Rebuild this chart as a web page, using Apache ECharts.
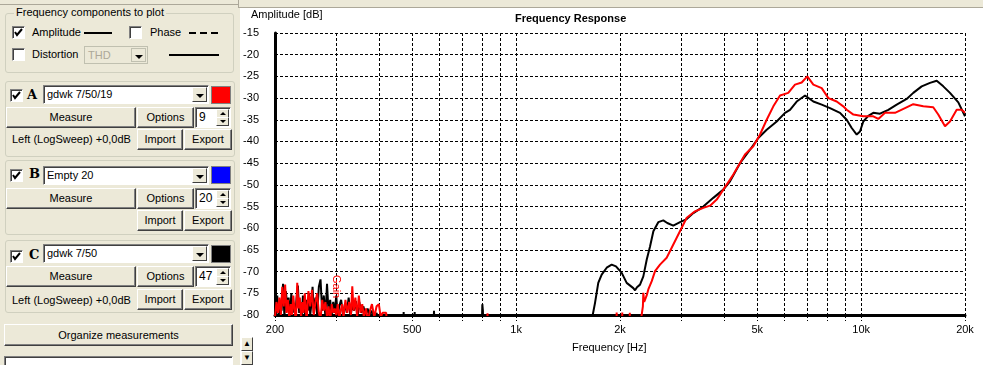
<!DOCTYPE html>
<html><head><meta charset="utf-8">
<script src="https://cdn.jsdelivr.net/npm/echarts@6/dist/echarts.min.js"></script>
<style>
html,body{margin:0;padding:0;}
body{width:983px;height:365px;overflow:hidden;background:#ECE9D8;position:relative;font-family:"Liberation Sans",Arial,sans-serif;font-size:11px;color:#000;}
.a{position:absolute;}
.grp{position:absolute;border:1px solid #D0D0BF;border-radius:3px;}
.btn{position:absolute;box-sizing:border-box;background:#ECE9D8;border:1px solid;border-color:#fff #404040 #404040 #fff;box-shadow:inset -1px -1px #808080;text-align:center;line-height:19px;}
.chk{position:absolute;box-sizing:border-box;width:13px;height:13px;background:#fff;border:1px solid;border-color:#808080 #fff #fff #808080;box-shadow:inset 1px 1px #404040;}
.chk svg{position:absolute;left:1px;top:1px;}
.combo{position:absolute;box-sizing:border-box;background:#fff;border:1px solid;border-color:#808080 #fff #fff #808080;box-shadow:inset 1px 1px #404040;padding-left:3px;line-height:17px;}
.dd{position:absolute;right:1px;top:1px;width:15px;bottom:1px;box-sizing:border-box;background:#ECE9D8;border:1px solid;border-color:#fff #404040 #404040 #fff;}
.dd:after{content:"";position:absolute;left:3px;top:6px;border-left:4px solid transparent;border-right:4px solid transparent;border-top:4px solid #000;}
.sw{position:absolute;box-sizing:border-box;width:20px;height:18px;border:1px solid #808080;}
.spin{position:absolute;box-sizing:border-box;width:36px;height:21px;background:#fff;border:1px solid;border-color:#808080 #fff #fff #808080;box-shadow:inset 1px 1px #404040;padding-left:3px;line-height:19px;font-size:12px;}
.spin i{position:absolute;right:1px;width:13px;height:9px;box-sizing:border-box;background:#ECE9D8;border:1px solid;border-color:#fff #404040 #404040 #fff;}
.spin i.u:after{content:"";position:absolute;left:3px;top:2px;border-left:3px solid transparent;border-right:3px solid transparent;border-bottom:3px solid #000;}
.spin i.d:after{content:"";position:absolute;left:3px;top:2px;border-left:3px solid transparent;border-right:3px solid transparent;border-top:3px solid #000;}
.let{position:absolute;font-weight:bold;font-size:13px;font-family:"DejaVu Serif",serif;}
#chart{position:absolute;left:240px;top:8px;width:743px;height:357px;background:#fff;}
.ub{position:absolute;left:241px;width:12px;height:14px;box-sizing:border-box;background:#ECE9D8;border:1px solid;border-color:#fff #404040 #404040 #fff;font-size:8px;line-height:12px;text-align:center;z-index:5;}
</style></head>
<body>
<div class="a" style="left:0;top:0;width:238px;height:4px;border-bottom:1px solid #ACA899;"></div>
<div class="a" style="left:238px;top:0;width:745px;height:7px;border-bottom:1px solid #ACA899;border-left:1px solid #ACA899;"></div>

<!-- group: frequency components -->
<div class="grp" style="left:5px;top:13px;width:227px;height:58px;"></div>
<div class="a" style="left:14px;top:6px;padding:0 2px;background:#ECE9D8;">Frequency components to plot</div>
<div class="chk" style="left:12px;top:26px;"><svg width="9" height="9"><polyline points="1,4 3,7 8,1" fill="none" stroke="#000" stroke-width="2"/></svg></div>
<div class="a" style="left:32px;top:26px;">Amplitude</div>
<div class="a" style="left:84px;top:32px;width:28px;height:2px;background:#000;"></div>
<div class="chk" style="left:129px;top:26px;"></div>
<div class="a" style="left:150px;top:26px;">Phase</div>
<div class="a" style="left:189px;top:32px;width:30px;height:2px;background:repeating-linear-gradient(to right,#000 0 7px,transparent 7px 11px);"></div>
<div class="chk" style="left:12px;top:48px;"></div>
<div class="a" style="left:32px;top:48px;">Distortion</div>
<div class="combo" style="left:84px;top:46px;width:64px;height:18px;background:#ECE9D8;color:#ACA899;border-color:#C0C0B0;box-shadow:none;">THD<span class="dd" style="border-color:#C0C0B0;"></span></div>
<div class="a" style="left:169px;top:54px;width:50px;height:2px;background:#000;"></div>

<!-- group A -->
<div class="grp" style="left:5px;top:81px;width:228px;height:74px;"></div>
<div class="chk" style="left:10px;top:89px;"><svg width="9" height="9"><polyline points="1,4 3,7 8,1" fill="none" stroke="#000" stroke-width="2"/></svg></div>
<div class="let" style="left:27px;top:87px;">A</div>
<div class="combo" style="left:43px;top:85px;width:166px;height:19px;">gdwk 7/50/19<span class="dd"></span></div>
<div class="sw" style="left:211px;top:86px;background:#FF0000;"></div>
<div class="btn" style="left:6px;top:107px;width:130px;height:21px;">Measure</div>
<div class="btn" style="left:137px;top:107px;width:57px;height:21px;">Options</div>
<div class="spin" style="left:195px;top:107px;">9<i class="u" style="top:1px"></i><i class="d" style="bottom:1px"></i></div>
<div class="a" style="left:12px;top:133px;">Left (LogSweep) +0,0dB</div>
<div class="btn" style="left:137px;top:129px;width:46px;height:21px;">Import</div>
<div class="btn" style="left:184px;top:129px;width:48px;height:21px;">Export</div>

<!-- group B -->
<div class="grp" style="left:5px;top:160px;width:228px;height:73px;"></div>
<div class="chk" style="left:10px;top:169px;"><svg width="9" height="9"><polyline points="1,4 3,7 8,1" fill="none" stroke="#000" stroke-width="2"/></svg></div>
<div class="let" style="left:29px;top:166px;">B</div>
<div class="combo" style="left:43px;top:166px;width:166px;height:19px;">Empty 20<span class="dd"></span></div>
<div class="sw" style="left:211px;top:166px;background:#0000FF;"></div>
<div class="btn" style="left:6px;top:188px;width:130px;height:21px;">Measure</div>
<div class="btn" style="left:137px;top:188px;width:57px;height:21px;">Options</div>
<div class="spin" style="left:195px;top:188px;">20<i class="u" style="top:1px"></i><i class="d" style="bottom:1px"></i></div>
<div class="btn" style="left:137px;top:210px;width:46px;height:21px;">Import</div>
<div class="btn" style="left:184px;top:210px;width:48px;height:21px;">Export</div>

<!-- group C -->
<div class="grp" style="left:5px;top:240px;width:228px;height:71px;"></div>
<div class="chk" style="left:10px;top:250px;"><svg width="9" height="9"><polyline points="1,4 3,7 8,1" fill="none" stroke="#000" stroke-width="2"/></svg></div>
<div class="let" style="left:29px;top:247px;">C</div>
<div class="combo" style="left:43px;top:244px;width:166px;height:19px;">gdwk 7/50<span class="dd"></span></div>
<div class="sw" style="left:211px;top:245px;background:#000;"></div>
<div class="btn" style="left:6px;top:266px;width:130px;height:21px;">Measure</div>
<div class="btn" style="left:137px;top:266px;width:57px;height:21px;">Options</div>
<div class="spin" style="left:195px;top:266px;">47<i class="u" style="top:1px"></i><i class="d" style="bottom:1px"></i></div>
<div class="a" style="left:12px;top:294px;">Left (LogSweep) +0,0dB</div>
<div class="btn" style="left:137px;top:289px;width:46px;height:21px;">Import</div>
<div class="btn" style="left:184px;top:289px;width:48px;height:21px;">Export</div>

<div class="btn" style="left:4px;top:324px;width:229px;height:22px;line-height:20px;">Organize measurements</div>
<div class="combo" style="left:4px;top:356px;width:229px;height:19px;"></div>

<div id="chart"></div>
<div class="ub" style="top:337px;">&#9650;</div>
<div class="ub" style="top:351px;">&#9660;</div>

<script>
// ---- axis definitions ----
const gridFreqs = [200,300,400,500,600,700,800,900,1000,2000,3000,4000,5000,6000,7000,8000,9000,10000,20000];
const labelFreqs = [200,500,1000,2000,5000,10000,20000];
const yMin = -80, yMax = -15, yStep = 5;

// ---- series C: gdwk 7/50 (black) ----
const blackFreq = [200,201,203,205,207,209,211,213,215,217,219,221,223,225,227,229,231,233,235,237,239,241,243,245,247,249,251,253,255,257,259,262,265,268,271,274,277,280,283,286,289,292,295,298,301,304,307,311,315,319,323,327,331,335,339,343,347,351,356,361,366,371,376,382,388,394,400,410,
  470,472,474,506,508,510,575,578,581,794,798,801,804,
  1650,1667,1693,1730,1770,1830,1892,1947,2023,2091,2186,2211,2240,2286,2337,2391,2444,2499,2582,2670,2742,2854,2986,3122,3263,3487,3728,3986,4169,4455,4763,5034,5324,5692,6017,6220,6504,6877,6955,7268,7686,8124,8685,9080,9390,9708,9924,10144,10489,10844,11340,11988,12678,13552,14160,14980,15834,16558,17302,18092,19128,20000];
const blackDb = [-74,-79.5,-75.5,-80.5,-77,-79,-72.8,-80.5,-74.5,-78,-76,-81,-75,-79.5,-77.5,-80,-76,-73.2,-79.5,-77,-80.5,-75.5,-78.5,-80.5,-76.5,-79,-75,-80,-77.5,-73.5,-79.5,-76,-80,-73.5,-71.8,-79,-75.5,-80.5,-72.8,-79.5,-76.5,-80,-77,-79.5,-75.5,-80.5,-78,-76.5,-80,-77.5,-79.5,-76,-80.5,-77.5,-79,-76.8,-80.5,-77,-79.5,-78,-80.5,-78.5,-80,-79,-81,-79.5,-82,-85,
  -85,-79.3,-85,-85,-79.3,-85,-85,-79,-85,-85,-77.5,-79,-85,
  -85,-80,-77.2,-72.6,-70.7,-69.1,-68.4,-68.8,-70.3,-72.6,-73.8,-74.3,-73.6,-73.0,-71.1,-67.2,-64.2,-60.7,-58.6,-58.2,-58.8,-59.4,-58.6,-57.9,-56.5,-55,-53,-51.1,-49.2,-45,-41.9,-39.2,-37.3,-35.4,-33.4,-32.7,-30.8,-29.4,-29.2,-30.8,-31.5,-32.3,-33.4,-35,-36.9,-38.4,-37.7,-35.4,-34.1,-33.4,-33.6,-32.7,-31.5,-30.2,-28.8,-27.3,-26.5,-26,-27.3,-28.8,-31,-34.2];

// ---- series A: gdwk 7/50/19 (red) ----
const redFreq = [200,202,204,206,208,210,212,214,216,218,220,222,224,226,228,230,232,234,236,238,240,242,244,247,250,253,256,259,262,265,268,271,274,277,280,283,286,289,292,295,298,301,304,307,310,313,316,320,324,328,332,335,338,342,346,350,354,358,362,367,372,377,382,388,394,400,405,410,420,425,
  823,826,829,1950,1956,1962,2025,2030,2036,2130,2135,2140,
  2280,2311,2330,2337,2350,2363,2390,2416,2472,2527,2612,2731,2824,2920,3019,3122,3300,3487,3648,3814,3986,4169,4261,4606,4870,5092,5324,5565,5820,6148,6431,6726,6982,7268,7686,8034,8494,8876,9080,9498,10144,10844,11216,11728,12534,13400,14160,15140,16180,16730,17500,18092,18920,19560,20000];
const redDb = [-80.5,-77,-79.5,-76,-80,-73.5,-78,-73,-79.5,-76.5,-81,-77.5,-80,-75.5,-79,-81.5,-72.6,-78.5,-76,-80.5,-77,-79.5,-75,-81.5,-74.5,-78,-74.2,-80,-77,-75,-79.5,-81,-76.5,-79,-77,-80.5,-78,-81.5,-77.5,-79.5,-78.5,-80,-77.5,-81,-79,-77.5,-80.5,-76.5,-79.5,-77,-80,-73.4,-79,-76,-80.5,-75.5,-79.5,-77.5,-80.5,-78.5,-81.5,-79,-77.5,-80.5,-78,-77.5,-80.5,-79.5,-79.5,-85,
  -85,-79.6,-85,-85,-79.4,-85,-85,-79.4,-85,-85,-79.5,-85,
  -85,-80,-78,-74.9,-77,-76.5,-75.5,-74.1,-72.2,-69.9,-68.4,-66.8,-64.5,-62.2,-59.9,-57.6,-56.1,-55.3,-54.8,-53.4,-51.1,-48.8,-47.6,-43,-41.1,-38.4,-35,-31.9,-29.4,-28.8,-26.9,-26.4,-25,-26.9,-27.7,-30,-30.8,-31.9,-32.7,-33.8,-34.2,-34.2,-34.8,-33.4,-33.4,-32.3,-31.4,-31.9,-32.1,-33.8,-36.5,-35.4,-32.7,-32.7,-33.4];

const FONT = '"Liberation Sans", Arial, sans-serif';
const pairs = (f, v) => f.map((x, i) => [x, v[i]]);
const dash = [3, 2];

const chart = echarts.init(document.getElementById('chart'), null, {renderer: 'canvas'});
chart.setOption({
  animation: false,
  backgroundColor: '#fff',
  textStyle: {fontFamily: FONT},
  title: [
    {text: 'Frequency Response', left: 275, top: 5, padding: 0, textStyle: {fontSize: 11, fontWeight: 'bold', color: '#000', fontFamily: FONT}},
    {text: 'Amplitude [dB]', left: 11, top: 1, padding: 0, textStyle: {fontSize: 11, fontWeight: 'normal', color: '#000', fontFamily: FONT}},
    {text: 'Frequency [Hz]', left: 332, top: 334, padding: 0, textStyle: {fontSize: 11, fontWeight: 'normal', color: '#000', fontFamily: FONT}}
  ],
  grid: {left: 35, right: 18, top: 25, bottom: 50, containLabel: false, outerBoundsMode: 'none'},
  xAxis: {
    type: 'log', logBase: 10, min: 200, max: 20000,
    axisLine: {show: true, onZero: false, lineStyle: {color: '#000', width: 3}},
    axisTick: {show: true, customValues: gridFreqs, length: 6, lineStyle: {color: '#000', width: 1, type: dash}},
    minorTick: {show: false},
    axisLabel: {customValues: labelFreqs, color: '#000', fontSize: 11, fontFamily: FONT, margin: 9,
      formatter: v => v >= 1000 ? (v / 1000) + 'k' : String(v)},
    splitLine: {show: true, lineStyle: {color: '#000', width: 1, type: dash}}
  },
  yAxis: {
    type: 'value', min: yMin, max: yMax, interval: yStep,
    axisLine: {show: true, onZero: false, lineStyle: {color: '#000', width: 3}},
    axisTick: {show: false},
    axisLabel: {color: '#000', fontSize: 11, fontFamily: FONT, margin: 16},
    splitLine: {show: true, lineStyle: {color: '#000', width: 1, type: dash}}
  },
  graphic: [
    {type: 'text', x: 102, y: 267, rotation: -Math.PI / 2, style: {text: 'Gain', fill: '#FF0000', font: '11px ' + FONT, textBaseline: 'top'}, z: 100}
  ],
  series: [
    {name: 'gdwk 7/50', type: 'line', data: pairs(blackFreq, blackDb), symbol: 'none', clip: true,
      lineStyle: {color: '#000', width: 2}, itemStyle: {color: '#000'}, z: 3},
    {name: 'gdwk 7/50/19', type: 'line', data: pairs(redFreq, redDb), symbol: 'none', clip: true,
      lineStyle: {color: '#FF0000', width: 2}, itemStyle: {color: '#FF0000'}, z: 4}
  ]
});
</script>
</body></html>
